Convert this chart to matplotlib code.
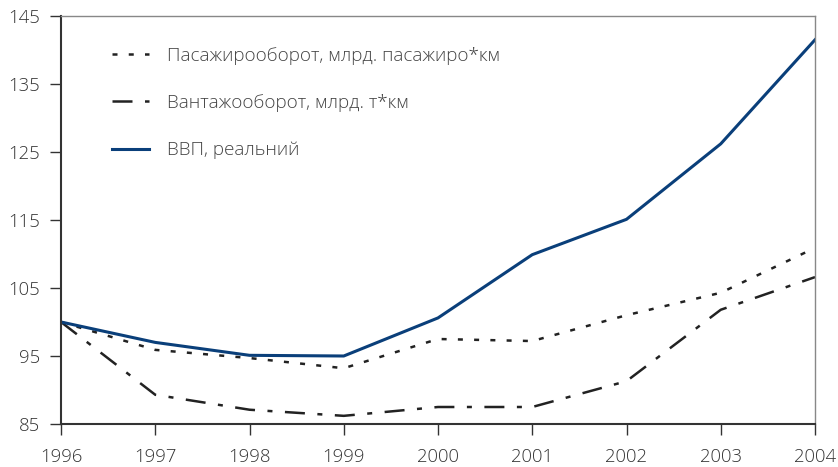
import matplotlib
matplotlib.use("Agg")
import matplotlib.pyplot as plt

years = [1996, 1997, 1998, 1999, 2000, 2001, 2002, 2003, 2004]
passenger = [100, 95.9, 94.7, 93.2, 97.5, 97.2, 101.0, 104.3, 110.9]
freight = [100, 89.3, 87.1, 86.2, 87.5, 87.5, 91.3, 101.8, 106.6]
gdp = [100, 97.0, 95.1, 95.0, 100.6, 109.9, 115.1, 126.2, 141.5]
labels = ["Пасажирооборот, млрд. пасажиро*км",
          "Вантажооборот, млрд. т*км",
          "ВВП, реальний"]
yticks = [85, 95, 105, 115, 125, 135, 145]

plt.rcParams['font.family'] = ['Open Sans', 'DejaVu Sans']
fig = plt.figure(figsize=(8.38, 4.67), dpi=100)
ax = fig.add_axes([61/838, 1-424/467, (815-61)/838, (424-16)/467])

ax.plot(years, passenger, color='#222222', lw=1.8, linestyle=(0, (2.0, 4.5)), label=labels[0])
ax.plot(years, freight, color='#222222', lw=1.8, linestyle=(0, (8, 5, 2, 5)), label=labels[1])
ax.plot(years, gdp, color='#0a3f7a', lw=2.2, label=labels[2])

ax.set_xlim(1996, 2004)
ax.set_ylim(85, 145)
ax.set_xticks(years)
ax.set_yticks(yticks)
ax.tick_params(axis='both', labelsize=13.3, colors='#333333', length=8, width=1, direction='out')
ax.tick_params(axis='x', pad=9)
ax.tick_params(axis='y', pad=7)
for lab in ax.get_xticklabels() + ax.get_yticklabels():
    lab.set_fontweight('light')
for s in ['left', 'bottom']:
    ax.spines[s].set_color('#333333')
    ax.spines[s].set_linewidth(1.5)
for s in ['top', 'right']:
    ax.spines[s].set_color('#888888')
    ax.spines[s].set_linewidth(1.0)

leg = ax.legend(loc='upper left', bbox_to_anchor=(0.057, 0.943), frameon=False,
                fontsize=13.6, handlelength=2.0, handletextpad=0.95, labelspacing=1.55,
                labelcolor='#444444', borderaxespad=0)
for t in leg.get_texts():
    t.set_fontweight('light')

fig.savefig("out.png", dpi=100)
